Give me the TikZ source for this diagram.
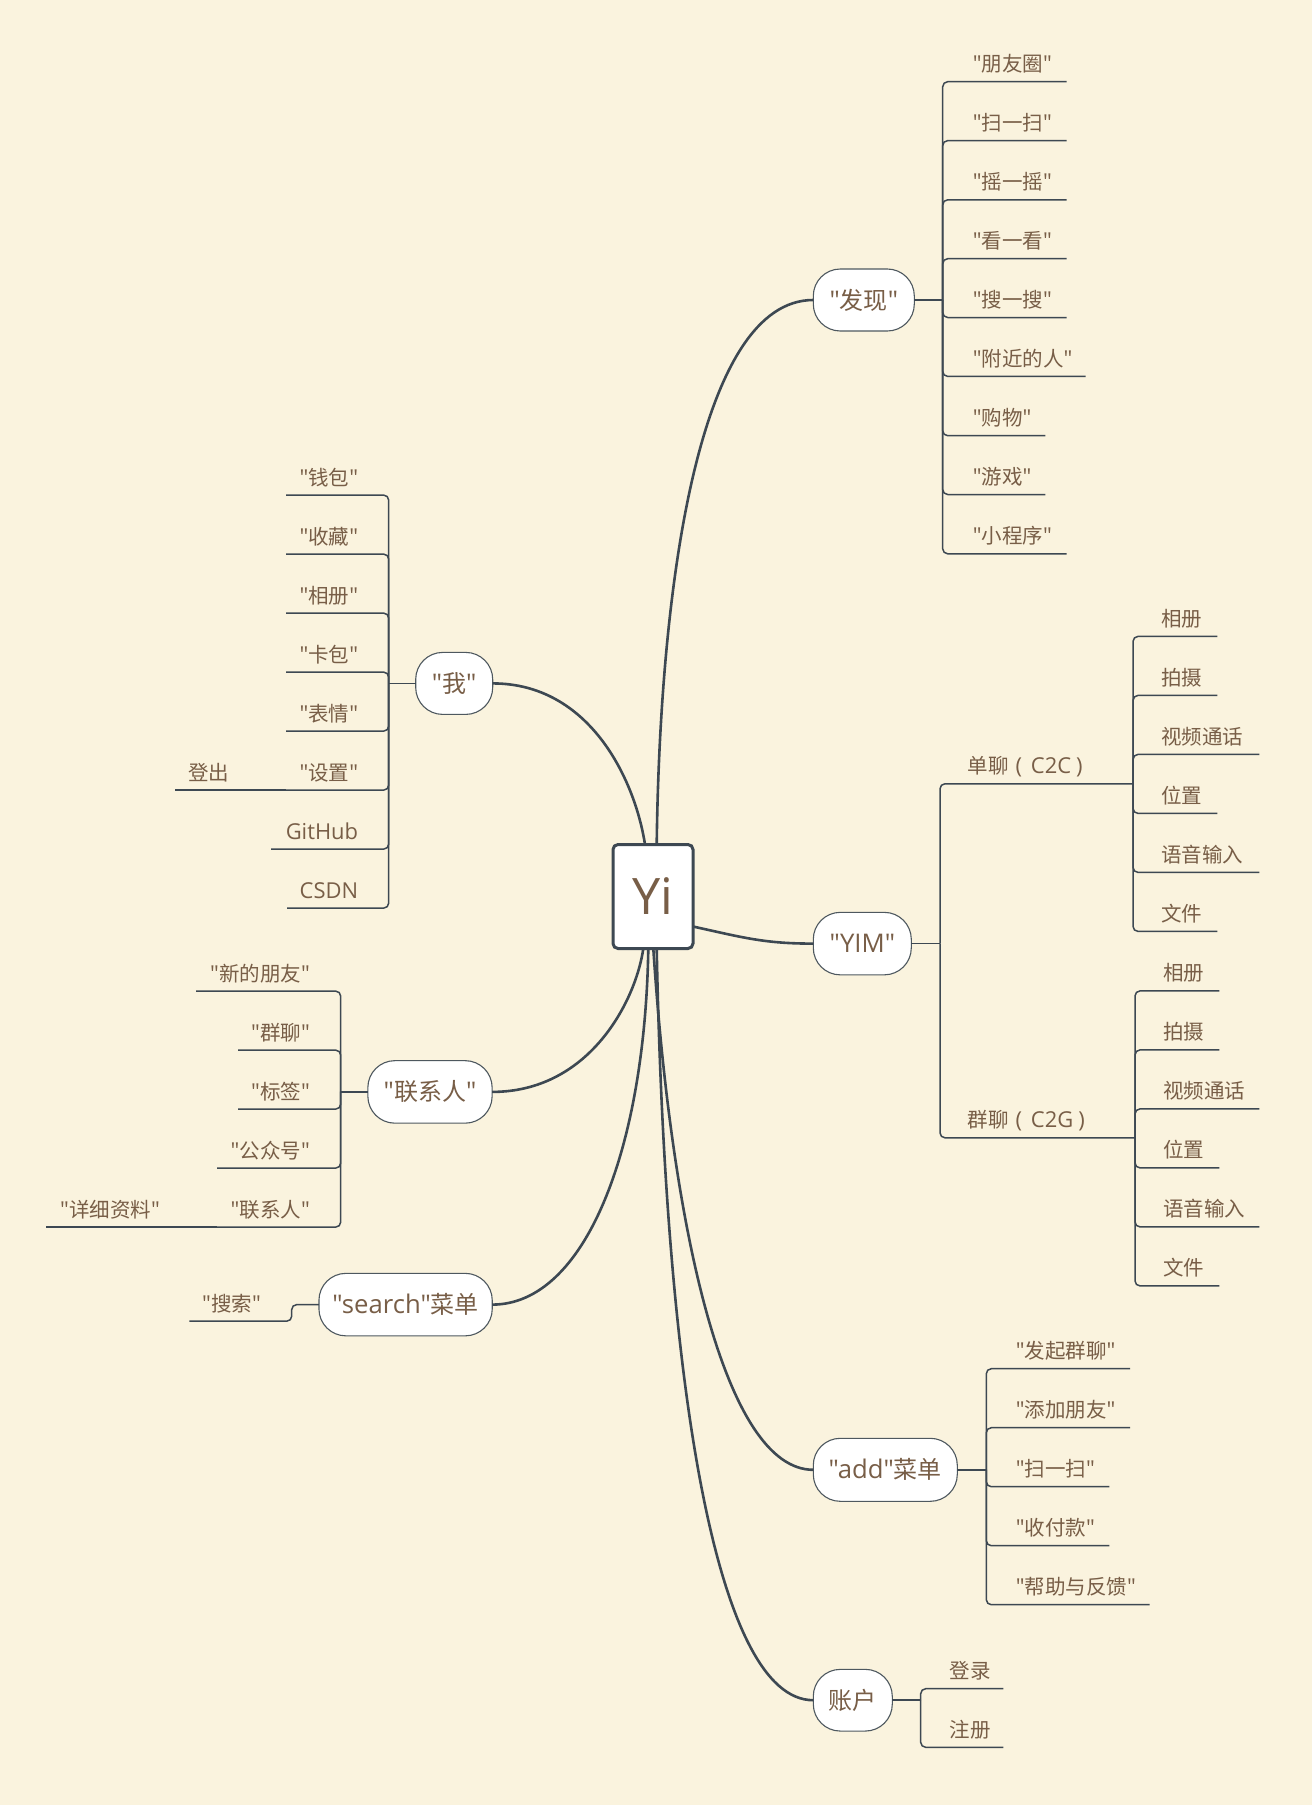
\documentclass[tikz,border=0pt]{standalone}
\usepackage{fontspec}
\setmainfont{Open Sans}[Scale=1.07,Ligatures=TeXOff]
\newfontfamily\zhfont{Noto Sans CJK SC}[Ligatures=TeXOff]
\newcommand\qz[1]{"{\zhfont #1}"}
\newcommand\zz[1]{{\zhfont #1}}
\definecolor{bgc}{HTML}{FAF3DE}
\definecolor{txc}{HTML}{785E47}
\definecolor{lnc}{HTML}{3D4852}
\definecolor{bdc}{HTML}{4E585F}
\begin{document}
\begin{tikzpicture}[x=1pt,y=-1pt,
  mainline/.style={draw=lnc,line width=2.6pt},
  cline/.style={draw=lnc,line width=1.5pt,rounded corners=5pt},
  topic/.style={draw=bdc,line width=1.1pt,fill=white,rounded corners=27pt,inner sep=0pt,outer sep=0pt,text=txc,font=\fontsize{24}{28}\selectfont},
  root/.style={draw=lnc,line width=3pt,fill=white,rounded corners=5pt,inner sep=0pt,outer sep=0pt,minimum width=80pt,minimum height=104pt,text=txc,font=\fontsize{47}{56}\selectfont},
  rtxt/.style={anchor=base west,inner sep=0pt,text=txc,font=\fontsize{20.5}{24}\selectfont},
  ltxt/.style={anchor=base east,inner sep=0pt,text=txc,font=\fontsize{20.5}{24}\selectfont},
]
\useasboundingbox (0,0) rectangle (1312,1805);
\fill[bgc] (0,0) rectangle (1312,1805);

% topic nodes
\node[root] (Yi) at (653,896.5) {Yi};
\node[topic,minimum width=101pt,minimum height=62pt] (fx) at (863.8,300) {\qz{发现}};
\node[topic,minimum width=77pt,minimum height=62pt] (me) at (454.2,683.4) {\qz{我}};
\node[topic,minimum width=98pt,minimum height=62.5pt] (ym) at (862.3,943.6) {"YIM"};
\node[topic,minimum width=124.3pt,minimum height=62.5pt] (ct) at (430,1091.9) {\qz{联系人}};
\node[topic,minimum width=173.3pt,minimum height=62.5pt] (sr) at (405.6,1304.6) {"search"\zz{菜单}};
\node[topic,minimum width=144pt,minimum height=63pt] (ad) at (885.3,1469.8) {"add"\zz{菜单}};
\node[topic,minimum width=79pt,minimum height=61.7pt] (ac) at (852.8,1700.2) {\zz{账户}};

% main branches
\draw[mainline] ([xshift=3.7pt]Yi.north) .. controls (660,580) and (700,300) .. (fx.west);
\draw[mainline] ([xshift=-8pt]Yi.north) .. controls (635,780) and (590,683.4) .. (me.east);
\draw[mainline] ([yshift=-30pt]Yi.east) .. controls (745,938) and (765,943.6) .. (ym.west);
\draw[mainline] ([xshift=-9.7pt]Yi.south) .. controls (636,1000) and (590,1091.9) .. (ct.east);
\draw[mainline] ([xshift=-4.7pt]Yi.south) .. controls (645,1150) and (585,1304.6) .. (sr.east);
\draw[mainline] ([xshift=0.3pt]Yi.south) .. controls (672,1230) and (725,1469.8) .. (ad.west);
\draw[mainline] ([xshift=3.7pt]Yi.south) .. controls (665,1380) and (715,1700.2) .. (ac.west);

% 发现 children
\coordinate (fxj) at (942.7,300);
\draw[cline] (fx.east) -- (fxj);
\foreach \n/\y/\e/\t in {1/81.7/1066.7/朋友圈,2/140.6/1066.7/扫一扫,3/199.8/1066.7/摇一摇,4/258.7/1066.7/看一看,5/317.5/1066.7/搜一搜,6/376.4/1085.7/附近的人,7/435.7/1045.3/购物,8/494.5/1045.3/游戏,9/553.8/1066.7/小程序}{
  \node[rtxt] (fx\n) at (972.7,\y-10) {\qz{\t}};
  \coordinate (fxe\n) at (\e,\y);
  \draw[cline] (fxj) |- (fxe\n);
}

% 我 children
\coordinate (mej) at (388.7,683.4);
\draw[cline] (me.west) -- (mej);
\foreach \n/\y/\e/\t in {1/495.1/286/\qz{钱包},2/554.1/286/\qz{收藏},3/613.1/286/\qz{相册},4/672.1/286/\qz{卡包},5/731.1/286/\qz{表情},6/790.1/286/\qz{设置},7/849.1/271/GitHub,8/908.1/287/CSDN}{
  \node[ltxt] (me\n) at (358.3,\y-10) {\t};
  \coordinate (mee\n) at (\e,\y);
  \draw[cline] (mej) |- (mee\n);
}
\coordinate (loe) at (175,790.1);
\draw[cline] (mee6) -- (loe);
\node[ltxt] (lo) at (229.3,780.1) {\zz{登出}};

% 联系人 children
\coordinate (ctj) at (340.7,1091.9);
\draw[cline] (ct.west) -- (ctj);
\foreach \n/\y/\e/\t in {1/991.1/196/新的朋友,2/1050.1/238/群聊,3/1109.1/238/标签,4/1168.1/217/公众号,5/1227.1/217/联系人}{
  \node[ltxt] (ct\n) at (310,\y-10) {\qz{\t}};
  \coordinate (cte\n) at (\e,\y);
  \draw[cline] (ctj) |- (cte\n);
}
\coordinate (dte) at (46,1227.1);
\draw[cline] (cte5) -- (dte);
\node[ltxt] (dt) at (160,1217.1) {\qz{详细资料}};

% search children
\coordinate (srj) at (291.7,1304.6);
\coordinate (sre1) at (189.3,1321.2);
\draw[cline] (sr.west) -- (srj) |- (sre1);
\node[ltxt] (sr1) at (261,1311.2) {\qz{搜索}};

% YIM children
\coordinate (ymj) at (940,943.6);
\draw[cline] (ym.east) -- (ymj);
\coordinate (yma) at (1133,783.75);
\coordinate (ymb) at (1135,1137.8);
\draw[cline] (ymj) |- (yma);
\draw[cline] (ymj) |- (ymb);
\node[rtxt] (dl) at (967.3,773.75) {\zz{单聊}\hspace{7pt}(\hspace{9pt}C2C\hspace{5pt})};
\node[rtxt] (ql) at (967.3,1127.8) {\zz{群聊}\hspace{7pt}(\hspace{9pt}C2G\hspace{5pt})};
\foreach \n/\y/\e/\t in {1/636.4/1217.3/相册,2/695.4/1217.3/拍摄,3/754.4/1259.3/视频通话,4/813.4/1217.3/位置,5/872.4/1259.3/语音输入,6/931.4/1217.3/文件}{
  \node[rtxt] (ya\n) at (1161,\y-10) {\zz{\t}};
  \coordinate (yae\n) at (\e,\y);
  \draw[cline] (yma) |- (yae\n);
}
\foreach \n/\y/\e/\t in {1/990.9/1219.3/相册,2/1049.9/1219.3/拍摄,3/1108.9/1259.3/视频通话,4/1167.9/1219.3/位置,5/1226.9/1259.3/语音输入,6/1285.9/1219.3/文件}{
  \node[rtxt] (yb\n) at (1163,\y-10) {\zz{\t}};
  \coordinate (ybe\n) at (\e,\y);
  \draw[cline] (ymb) |- (ybe\n);
}

% add children
\coordinate (adj) at (986.3,1469.8);
\draw[cline] (ad.east) -- (adj);
\foreach \n/\y/\e/\t in {1/1368.7/1130/发起群聊,2/1427.7/1130/添加朋友,3/1486.7/1109.3/扫一扫,4/1545.7/1109.3/收付款,5/1604.7/1149.7/帮助与反馈}{
  \node[rtxt] (ad\n) at (1015.7,\y-10) {\qz{\t}};
  \coordinate (ade\n) at (\e,\y);
  \draw[cline] (adj) |- (ade\n);
}

% 账户 children
\coordinate (acj) at (920.7,1700.2);
\draw[cline] (ac.east) -- (acj);
\foreach \n/\y/\e/\t in {1/1688.7/1003.3/登录,2/1747.3/1003.3/注册}{
  \node[rtxt] (ac\n) at (949.3,\y-10) {\zz{\t}};
  \coordinate (ace\n) at (\e,\y);
  \draw[cline] (acj) |- (ace\n);
}
\end{tikzpicture}
\end{document}
